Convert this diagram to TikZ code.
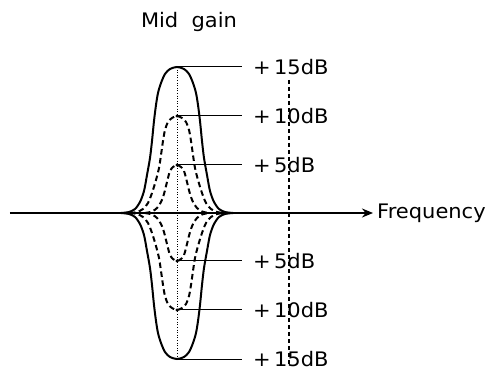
\documentclass[tikz,border=0pt]{standalone}
\usepackage{fontspec}
\newfontfamily\gainfont[FakeStretch=1.05]{DejaVu Sans}
\usetikzlibrary{arrows.meta}

\begin{document}
\begin{tikzpicture}[x=1pt,y=1pt,>=Stealth,
    txt/.style={font=\gainfont\fontsize{20}{22}\selectfont},
    lbl/.style={txt,anchor=west,inner xsep=11pt,inner ysep=0pt},
    gainline/.style={line width=1pt},
    hump/.style={line width=2pt,dash pattern=on 5.5pt off 3.5pt}]
  \useasboundingbox (-177,-158) rectangle (309,213);
  \coordinate (ax0) at (-167,0);
  \node[txt,anchor=west,inner xsep=4pt] (freq) at (196,0) {Frequency};
  \draw[->,line width=1.8pt,-{Stealth[length=11pt,width=9pt]}] (ax0) -- (freq.west);
  \node[txt] (midgain) at (12,191) {Mid\ \ gain};
  \coordinate (dtop) at (112,133);
  \coordinate (dbot) at (112,-152);
  \draw[line width=1.1pt,dash pattern=on 4pt off 3pt] (dtop) -- (dbot);
  \foreach \s/\n in {1/u,-1/d} {
    \coordinate (p15\n) at (0,146*\s);
    \coordinate (p10\n) at (0,97*\s);
    \coordinate (p5\n) at (0,48*\s);
    \begin{scope}[yscale=\s]
      \draw[line width=2pt] plot[smooth] coordinates {(-56,0) (-48,1) (-42,4) (-37,11) (-33,22) (-30,38) (-27,55) (-25,72) (-23,92) (-21,108) (-19,120) (-16,130) (-12,139) (-7,144) (0,146) (7,144) (12,139) (16,130) (19,120) (21,108) (23,92) (25,72) (27,55) (30,38) (33,22) (37,11) (42,4) (48,1) (56,0)};
      \draw[hump] plot[smooth] coordinates {(-47,0) (-40,1) (-34,4) (-29,10) (-25,20) (-21,33) (-18,45) (-16,58) (-14,72) (-12,83) (-9,91) (-5,95) (0,97) (5,95) (9,91) (12,83) (14,72) (16,58) (18,45) (21,33) (25,20) (29,10) (34,4) (40,1) (47,0)};
      \draw[hump] plot[smooth] coordinates {(-32,0) (-25,1.5) (-20,5) (-16,11) (-13,19) (-11,27) (-9,35) (-7,42) (-4,46) (0,48) (4,46) (7,42) (9,35) (11,27) (13,19) (16,11) (20,5) (25,1.5) (32,0)};
    \end{scope}
    \fill (p10\n) circle (1.6);
    \fill (p5\n) circle (1.6);
    \node[lbl] (l15\n) at (65,146*\s) {+\,15dB};
    \node[lbl] (l10\n) at (65,97*\s) {+\,10dB};
    \node[lbl] (l5\n) at (65,48*\s) {+\,5dB};
    \draw[gainline] (p15\n) -- (l15\n.west);
    \draw[gainline] (p10\n) -- (l10\n.west);
    \draw[gainline] (p5\n) -- (l5\n.west);
  }
  \draw[line width=0.6pt,dotted] (p15u) -- (p15d);
\end{tikzpicture}
\end{document}
